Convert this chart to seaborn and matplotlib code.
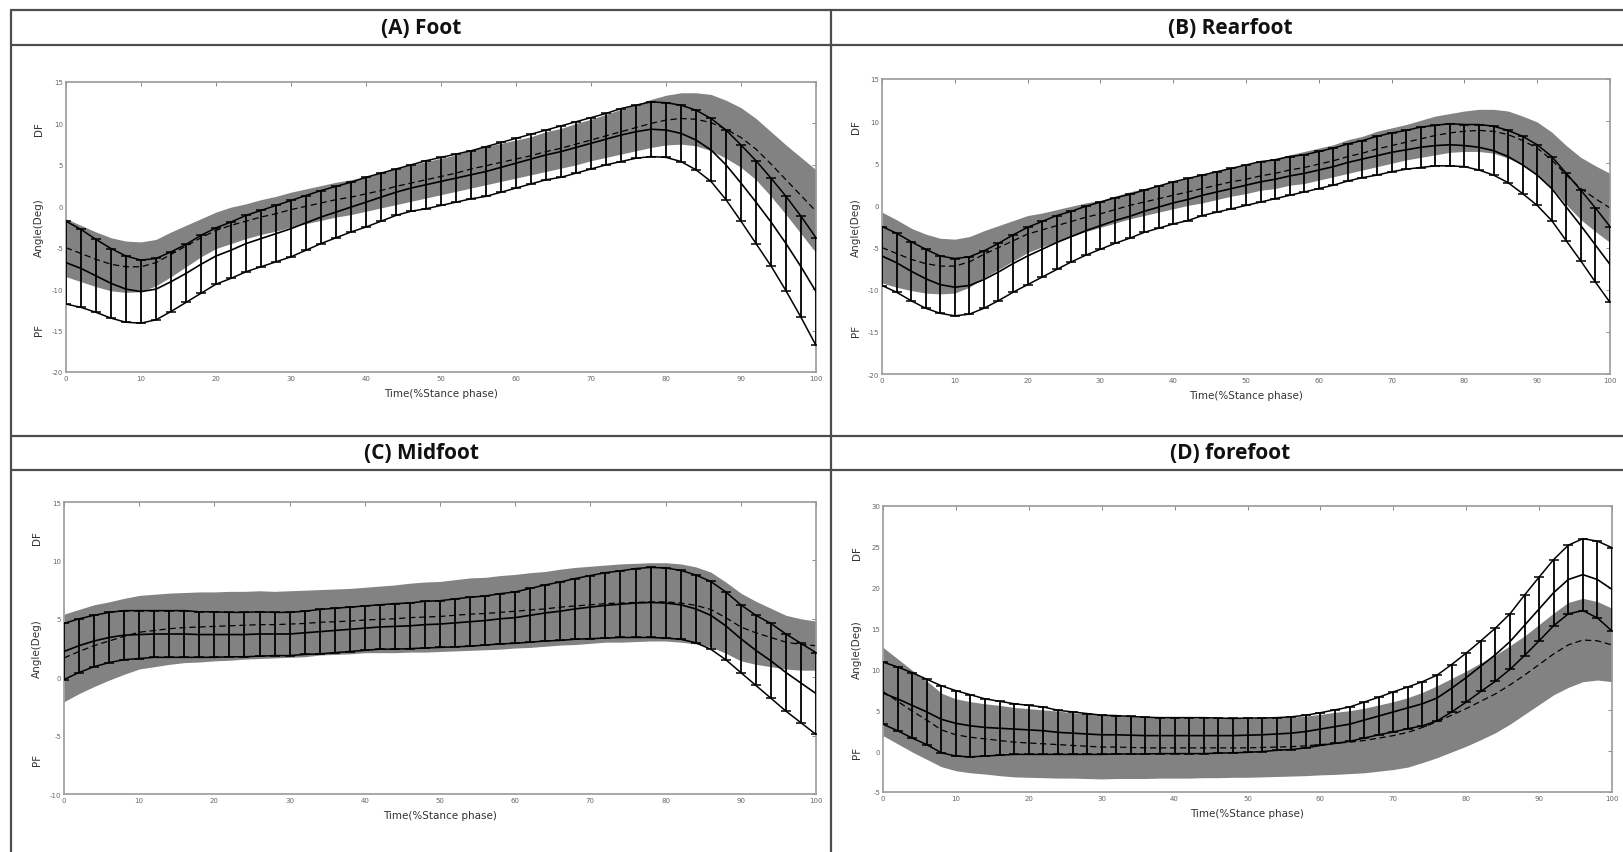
import numpy as np
import pandas as pd
import matplotlib
matplotlib.use("Agg")
import matplotlib.pyplot as plt
from matplotlib.lines import Line2D
import seaborn as sns

# ---------------- data ----------------
time_pct = list(range(0, 101, 2))

titles = ["(A) Foot", "(B) Rearfoot", "(C) Midfoot", "(D) forefoot"]
y_ticks = [
    [-20, -15, -10, -5, 0, 5, 10, 15],
    [-20, -15, -10, -5, 0, 5, 10, 15],
    [-10, -5, 0, 5, 10, 15],
    [-5, 0, 5, 10, 15, 20, 25, 30],
]
x_ticks = [0, 10, 20, 30, 40, 50, 60, 70, 80, 90, 100]

foot_black_mean = [-6.8, -7.5, -8.4, -9.3, -10.0, -10.3, -10.0, -9.1, -8.1, -7.0,
                   -6.0, -5.3, -4.5, -3.9, -3.3, -2.7, -2.0, -1.3, -0.7, -0.1,
                   0.5, 1.1, 1.7, 2.2, 2.6, 3.0, 3.4, 3.8, 4.2, 4.7,
                   5.2, 5.7, 6.2, 6.6, 7.1, 7.6, 8.1, 8.6, 9.0, 9.3,
                   9.2, 8.8, 8.0, 6.8, 5.0, 2.8, 0.5, -1.9, -4.5, -7.3, -10.3]
foot_black_sd = [5.0, 4.7, 4.4, 4.2, 4.0, 3.8, 3.7, 3.6, 3.5, 3.5,
                 3.4, 3.4, 3.4, 3.4, 3.4, 3.4, 3.3, 3.2, 3.1, 3.0,
                 3.0, 2.9, 2.8, 2.8, 2.9, 2.9, 2.9, 2.9, 3.0, 3.0,
                 3.0, 3.0, 3.0, 3.1, 3.1, 3.1, 3.1, 3.2, 3.2, 3.3,
                 3.3, 3.4, 3.6, 3.8, 4.2, 4.6, 5.0, 5.3, 5.7, 6.1, 6.5]
foot_grey_mean = [-5.0, -5.7, -6.4, -7.0, -7.3, -7.3, -6.8, -5.8, -4.8, -3.8,
                  -2.9, -2.3, -1.8, -1.3, -0.9, -0.4, 0.0, 0.4, 0.8, 1.1,
                  1.5, 1.9, 2.4, 2.8, 3.2, 3.6, 4.0, 4.5, 4.9, 5.3,
                  5.7, 6.1, 6.6, 7.0, 7.5, 8.0, 8.5, 9.0, 9.5, 10.0,
                  10.4, 10.6, 10.5, 10.1, 9.3, 8.3, 6.9, 5.1, 3.2, 1.3, -0.6]
foot_grey_sd = [3.5, 3.4, 3.3, 3.2, 3.1, 3.0, 2.8, 2.7, 2.5, 2.3,
                2.2, 2.2, 2.1, 2.1, 2.1, 2.1, 2.1, 2.1, 2.1, 2.1,
                2.1, 2.1, 2.2, 2.2, 2.2, 2.2, 2.2, 2.3, 2.3, 2.3,
                2.3, 2.3, 2.4, 2.4, 2.5, 2.5, 2.6, 2.7, 2.8, 2.9,
                3.0, 3.1, 3.2, 3.4, 3.5, 3.6, 3.7, 3.9, 4.2, 4.6, 5.0]

rear_black_mean = [-6.0, -6.8, -7.8, -8.7, -9.4, -9.7, -9.5, -8.8, -7.9, -6.9,
                   -6.0, -5.2, -4.4, -3.7, -3.0, -2.4, -1.8, -1.3, -0.7, -0.2,
                   0.3, 0.7, 1.2, 1.6, 2.0, 2.4, 2.8, 3.1, 3.5, 3.8,
                   4.2, 4.6, 5.1, 5.5, 5.9, 6.3, 6.6, 6.9, 7.1, 7.2,
                   7.1, 6.9, 6.5, 5.8, 4.8, 3.6, 2.0, -0.2, -2.4, -4.7, -7.0]
rear_black_sd = [3.5, 3.5, 3.5, 3.5, 3.4, 3.4, 3.4, 3.4, 3.4, 3.4,
                 3.4, 3.3, 3.2, 3.0, 2.9, 2.8, 2.7, 2.6, 2.5, 2.5,
                 2.5, 2.5, 2.4, 2.4, 2.4, 2.4, 2.4, 2.3, 2.3, 2.2,
                 2.2, 2.2, 2.2, 2.2, 2.3, 2.3, 2.3, 2.4, 2.4, 2.5,
                 2.5, 2.7, 2.9, 3.1, 3.4, 3.6, 3.8, 4.0, 4.2, 4.4, 4.5]
rear_grey_mean = [-5.0, -5.7, -6.4, -6.9, -7.2, -7.2, -6.7, -5.8, -5.0, -4.2,
                  -3.4, -2.9, -2.4, -1.9, -1.4, -1.0, -0.5, 0.0, 0.4, 0.8,
                  1.2, 1.6, 2.0, 2.4, 2.8, 3.1, 3.5, 3.8, 4.2, 4.5,
                  4.9, 5.3, 5.8, 6.2, 6.7, 7.1, 7.5, 7.9, 8.3, 8.6,
                  8.8, 8.9, 8.8, 8.4, 7.7, 6.8, 5.4, 3.6, 2.0, 0.8, -0.3]
rear_grey_sd = [4.2, 4.0, 3.7, 3.5, 3.3, 3.2, 3.0, 2.8, 2.6, 2.4,
                2.2, 2.0, 1.9, 1.8, 1.7, 1.6, 1.6, 1.6, 1.6, 1.6,
                1.6, 1.6, 1.7, 1.7, 1.7, 1.7, 1.7, 1.8, 1.8, 1.9,
                1.9, 1.9, 2.0, 2.0, 2.1, 2.1, 2.1, 2.2, 2.3, 2.3,
                2.4, 2.5, 2.6, 2.8, 2.9, 3.1, 3.3, 3.5, 3.7, 3.9, 4.1]

mid_black_mean = [2.2, 2.7, 3.1, 3.4, 3.6, 3.65, 3.7, 3.7, 3.7, 3.65,
                  3.65, 3.65, 3.65, 3.7, 3.7, 3.7, 3.8, 3.9, 4.0, 4.1,
                  4.2, 4.3, 4.35, 4.4, 4.5, 4.55, 4.65, 4.75, 4.85, 5.0,
                  5.1, 5.3, 5.5, 5.65, 5.85, 6.0, 6.15, 6.25, 6.35, 6.4,
                  6.35, 6.2, 5.85, 5.3, 4.4, 3.3, 2.3, 1.4, 0.4, -0.5, -1.4]
mid_black_sd = [2.4, 2.3, 2.2, 2.15, 2.1, 2.05, 2.0, 2.0, 2.0, 1.95,
                1.95, 1.9, 1.9, 1.9, 1.85, 1.85, 1.85, 1.9, 1.9, 1.9,
                1.9, 1.9, 1.95, 1.95, 2.0, 2.0, 2.05, 2.1, 2.1, 2.15,
                2.2, 2.3, 2.4, 2.5, 2.6, 2.7, 2.8, 2.85, 2.95, 3.0,
                3.0, 2.95, 2.9, 2.9, 2.9, 2.9, 3.0, 3.2, 3.3, 3.4, 3.5]
mid_grey_mean = [1.65, 2.2, 2.7, 3.1, 3.5, 3.85, 4.0, 4.15, 4.25, 4.3,
                 4.35, 4.4, 4.45, 4.5, 4.5, 4.55, 4.6, 4.7, 4.75, 4.8,
                 4.9, 4.95, 5.0, 5.1, 5.15, 5.2, 5.3, 5.4, 5.45, 5.55,
                 5.65, 5.75, 5.85, 6.0, 6.1, 6.2, 6.3, 6.35, 6.4, 6.45,
                 6.45, 6.35, 6.15, 5.8, 5.1, 4.3, 3.8, 3.4, 3.0, 2.8, 2.7]
mid_grey_sd = [3.75, 3.6, 3.5, 3.35, 3.25, 3.15, 3.1, 3.05, 3.0, 3.0,
               2.95, 2.95, 2.9, 2.9, 2.85, 2.85, 2.85, 2.8, 2.8, 2.8,
               2.8, 2.85, 2.9, 2.95, 3.0, 3.0, 3.05, 3.1, 3.1, 3.15,
               3.15, 3.2, 3.2, 3.25, 3.3, 3.3, 3.3, 3.35, 3.35, 3.35,
               3.35, 3.35, 3.3, 3.2, 3.05, 2.9, 2.7, 2.5, 2.3, 2.2, 2.1]

fore_black_mean = [7.1, 6.4, 5.6, 4.8, 3.9, 3.4, 3.1, 2.9, 2.8, 2.7,
                   2.6, 2.5, 2.3, 2.2, 2.1, 2.0, 2.0, 1.95, 1.9, 1.9,
                   1.9, 1.9, 1.9, 1.9, 1.9, 1.95, 2.0, 2.1, 2.2, 2.4,
                   2.7, 3.0, 3.3, 3.8, 4.3, 4.8, 5.3, 5.8, 6.5, 7.7,
                   9.0, 10.4, 11.8, 13.4, 15.4, 17.4, 19.4, 21.0, 21.6, 21.0, 19.8]
fore_black_sd = [3.8, 3.9, 4.0, 4.0, 4.1, 4.0, 3.8, 3.5, 3.3, 3.1,
                 3.0, 2.9, 2.7, 2.6, 2.5, 2.4, 2.35, 2.3, 2.25, 2.2,
                 2.2, 2.2, 2.2, 2.15, 2.1, 2.1, 2.05, 2.0, 2.0, 2.0,
                 2.0, 2.05, 2.1, 2.2, 2.3, 2.45, 2.55, 2.7, 2.8, 2.9,
                 3.0, 3.1, 3.25, 3.4, 3.7, 3.9, 4.05, 4.2, 4.4, 4.7, 5.1]
fore_grey_mean = [7.3, 6.1, 4.9, 3.8, 2.6, 2.0, 1.7, 1.5, 1.3, 1.1,
                  1.0, 0.9, 0.8, 0.7, 0.6, 0.5, 0.5, 0.45, 0.4, 0.4,
                  0.4, 0.4, 0.4, 0.4, 0.4, 0.4, 0.45, 0.5, 0.55, 0.65,
                  0.8, 0.95, 1.1, 1.3, 1.6, 1.9, 2.3, 2.9, 3.6, 4.4,
                  5.2, 6.1, 7.0, 8.1, 9.3, 10.6, 11.9, 13.0, 13.6, 13.5, 13.0]
fore_grey_sd = [5.4, 5.2, 5.0, 4.8, 4.5, 4.4, 4.35, 4.3, 4.3, 4.25,
                4.2, 4.15, 4.1, 4.0, 3.95, 3.9, 3.85, 3.8, 3.75, 3.7,
                3.7, 3.7, 3.65, 3.65, 3.6, 3.6, 3.6, 3.6, 3.6, 3.65,
                3.7, 3.8, 3.85, 3.95, 4.05, 4.15, 4.25, 4.3, 4.4, 4.5,
                4.6, 4.7, 4.75, 4.8, 4.8, 4.9, 5.0, 5.2, 5.1, 4.8, 4.5]

# ---------------- style ----------------
sns.set_style("white")
plt.rcParams["font.family"] = ["DejaVu Sans"]

W, H = 1623, 853
fig = plt.figure(figsize=(W / 100, H / 100), dpi=100)
fig.patch.set_facecolor("white")

# axes rectangles in pixels: left, top, right, bottom
rects = [(66, 83, 816, 373), (882, 80, 1610, 375),
         (64, 503, 816, 795), (883, 507, 1612, 793)]
dfpf = [(0.84, 0.15), (0.84, 0.15), (0.88, 0.12), (0.84, 0.14)]
panels = [
    (foot_grey_mean, foot_grey_sd, foot_black_mean, foot_black_sd),
    (rear_grey_mean, rear_grey_sd, rear_black_mean, rear_black_sd),
    (mid_grey_mean, mid_grey_sd, mid_black_mean, mid_black_sd),
    (fore_grey_mean, fore_grey_sd, fore_black_mean, fore_black_sd),
]

t = np.array(time_pct, dtype=float)
for i, (gm, gs, bm, bs) in enumerate(panels):
    l, tp, r, b = rects[i]
    ax = fig.add_axes([l / W, 1 - b / H, (r - l) / W, (b - tp) / H])
    gm, gs, bm, bs = map(np.array, (gm, gs, bm, bs))
    df = pd.DataFrame({"t": t, "grey": gm, "black": bm,
                       "black_hi": bm + bs, "black_lo": bm - bs})

    ax.fill_between(t, gm - gs, gm + gs, color="#828282", lw=0, zorder=1)
    sns.lineplot(data=df, x="t", y="grey", ax=ax, color="black", lw=0.9,
                 linestyle=(0, (5, 3)), zorder=2)
    ax.errorbar(t, bm, yerr=bs, fmt="none", ecolor="black", elinewidth=1.3,
                capsize=3.4, capthick=1.1, zorder=3)
    for col, lw in (("black", 1.2), ("black_hi", 1.1), ("black_lo", 1.1)):
        sns.lineplot(data=df, x="t", y=col, ax=ax, color="black", lw=lw, zorder=4)

    yt = y_ticks[i]
    ax.set_xlim(0, 100)
    ax.set_ylim(yt[0], yt[-1])
    ax.set_xticks(x_ticks)
    ax.set_yticks(yt)
    ax.set_xticklabels([str(v) for v in x_ticks])
    ax.set_yticklabels([str(v) for v in yt])
    ax.tick_params(direction="in", length=3, width=0.7, colors="#8a8a8a",
                   labelcolor="#666666", labelsize=5, top=True, right=True, pad=2)
    for sp in ax.spines.values():
        sp.set_color("#9a9a9a")
        sp.set_linewidth(1.2)
    ax.set_xlabel("Time(%Stance phase)", fontsize=7.5, color="#333333", labelpad=5)
    ax.set_ylabel("")
    ax.text(-0.036, 0.5, "Angle(Deg)", transform=ax.transAxes, rotation=90,
            ha="center", va="center", fontsize=7.5, color="#333333")
    ax.text(-0.036, dfpf[i][0], "DF", transform=ax.transAxes, rotation=90,
            ha="center", va="center", fontsize=7.5, color="#333333")
    ax.text(-0.036, dfpf[i][1], "PF", transform=ax.transAxes, rotation=90,
            ha="center", va="center", fontsize=7.5, color="#333333")

# ---------------- table-like frame ----------------
def hline(y, x0=10.5, x1=W):
    fig.add_artist(Line2D([x0 / W, x1 / W], [1 - y / H, 1 - y / H],
                          transform=fig.transFigure, color="#4d4d4d", lw=1.6))

def vline(x, y0=10.5, y1=H):
    fig.add_artist(Line2D([x / W, x / W], [1 - y0 / H, 1 - y1 / H],
                          transform=fig.transFigure, color="#4d4d4d", lw=1.6))

for yy in (10.5, 45.5, 437, 471):
    hline(yy)
for xx in (10.5, 831):
    vline(xx)

title_pos = [(421, 28), (1230, 28), (421, 454), (1230, 454)]
for (x, y), ttl in zip(title_pos, titles):
    fig.text(x / W, 1 - y / H, ttl, ha="center", va="center", fontsize=15,
             fontweight="bold", family=["Open Sans", "DejaVu Sans"], color="#111111")

fig.savefig("out.png", dpi=100, facecolor="white")
